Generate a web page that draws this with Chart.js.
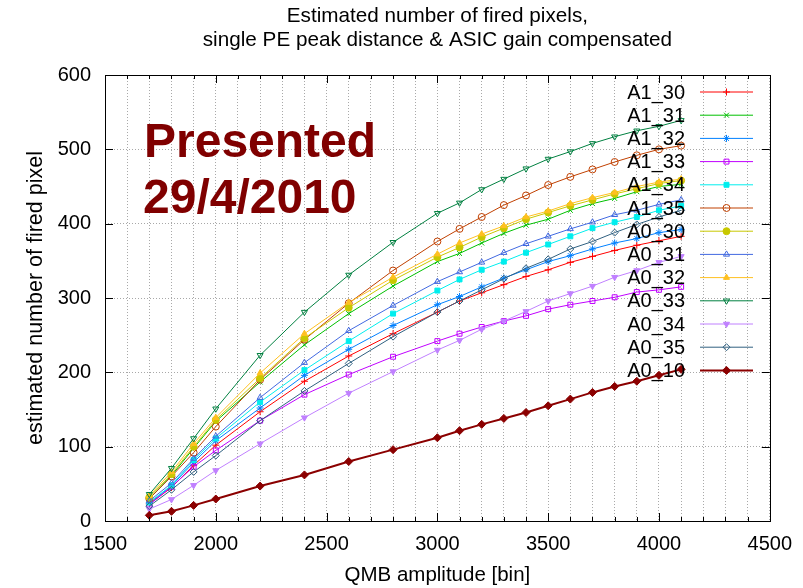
<!DOCTYPE html>
<html>
<head>
<meta charset="utf-8">
<script src="https://cdn.jsdelivr.net/npm/chart.js@4.4.1/dist/chart.umd.min.js"></script>
<style>
  body { margin: 0; background: #fff; }
  #wrap { width: 803px; height: 588px; }
</style>
</head>
<body>
<div id="wrap"><canvas id="chart" width="803" height="588"></canvas></div>
<script>
// QMB amplitude [bin]
const amplitudes = [1700, 1800, 1900, 2000, 2200, 2400, 2600, 2800, 3000, 3100, 3200, 3300, 3400, 3500, 3600, 3700, 3800, 3900, 4000, 4100];

const seriesNames = ["A1_30", "A1_31", "A1_32", "A1_33", "A1_34", "A1_35", "A0_30", "A0_31", "A0_32", "A0_33", "A0_34", "A0_35", "A0_10"];

const a1_30 = [23, 45, 75, 102, 147, 188, 222, 252, 281, 296, 307, 318, 329, 338, 348, 356, 364, 371, 377, 383];
const a1_31 = [30, 61, 98, 134, 187, 237, 279, 316, 349, 360, 374, 387, 398, 406, 418, 427, 434, 443, 450, 453];
const a1_32 = [24, 47, 79, 108, 152, 196, 231, 263, 291, 302, 315, 327, 338, 349, 357, 366, 374, 380, 388, 392];
const a1_33 = [22, 46, 73, 95, 135, 170, 197, 221, 242, 252, 261, 269, 276, 285, 291, 296, 301, 308, 311, 315];
const a1_34 = [25, 48, 82, 111, 160, 203, 242, 279, 310, 325, 338, 349, 361, 372, 383, 394, 402, 409, 418, 424];
const a1_35 = [30, 60, 92, 127, 190, 244, 293, 337, 376, 393, 409, 425, 438, 452, 463, 473, 483, 492, 500, 505];
const a0_30 = [32, 63, 100, 136, 192, 246, 287, 324, 355, 368, 382, 394, 406, 415, 424, 432, 440, 447, 454, 458];
const a0_31 = [27, 51, 84, 114, 166, 213, 256, 290, 322, 335, 348, 361, 373, 383, 393, 402, 412, 418, 426, 432];
const a0_32 = [34, 66, 104, 139, 199, 252, 294, 328, 359, 374, 386, 397, 409, 417, 427, 435, 442, 450, 456, 460];
const a0_33 = [36, 71, 111, 151, 223, 281, 331, 375, 414, 428, 446, 460, 474, 487, 497, 508, 517, 525, 531, 539];
const a0_34 = [16, 29, 48, 68, 104, 139, 172, 201, 230, 243, 258, 269, 282, 296, 306, 316, 328, 337, 348, 356];
const a0_35 = [20, 42, 66, 88, 135, 175, 212, 248, 281, 296, 311, 326, 340, 352, 366, 376, 388, 399, 409, 418];
const a0_10 = [7.6, 13, 21, 29.6, 47, 62, 80, 96, 112, 121.5, 130, 138, 146, 155, 164, 173, 181, 188, 196, 204];

const seriesValues = [a1_30, a1_31, a1_32, a1_33, a1_34, a1_35, a0_30, a0_31, a0_32, a0_33, a0_34, a0_35, a0_10];

// gnuplot default line colours and point types
const colors = ["#ff0000", "#00c000", "#0080ff", "#c000ff", "#00eeee", "#c04000", "#c8c800", "#4169e1", "#ffc020", "#008040", "#c080ff", "#306080", "#8b0000"];
const markers = [
  {style: "cross", fill: false},
  {style: "crossRot", fill: false},
  {style: "star", fill: false},
  {style: "rect", fill: false},
  {style: "rect", fill: true},
  {style: "circle", fill: false},
  {style: "circle", fill: true},
  {style: "triangle", fill: false},
  {style: "triangle", fill: true},
  {style: "triangle", fill: false, rot: 180},
  {style: "triangle", fill: true, rot: 180},
  {style: "rectRot", fill: false},
  {style: "rectRot", fill: true}
];

const FONT = '"Liberation Sans", Arial, Helvetica, sans-serif';

const datasets = seriesNames.map((name, i) => ({
  label: name,
  data: amplitudes.map((x, j) => ({x: x, y: seriesValues[i][j]})),
  borderColor: colors[i],
  backgroundColor: colors[i],
  pointBackgroundColor: markers[i].fill ? colors[i] : "rgba(255,255,255,0)",
  pointBorderColor: colors[i],
  pointStyle: markers[i].style,
  pointRotation: markers[i].rot || 0,
  pointRadius: name === "A0_10" ? 4 : 3.5,
  pointBorderWidth: 1,
  borderWidth: name === "A0_10" ? 2 : 1,
  tension: 0,
  fill: false,
  order: seriesNames.length - i
}));

// border box and inward ticks, gnuplot style
const frame = {
  id: "frame",
  afterDatasetsDraw(chart) {
    const ctx = chart.ctx;
    const a = chart.chartArea;
    const xs = chart.scales.x, ys = chart.scales.y;
    ctx.save();
    ctx.strokeStyle = "#000";
    ctx.lineWidth = 1;
    ctx.beginPath();
    xs.ticks.forEach(t => {
      const px = Math.round(xs.getPixelForValue(t.value)) + 0.5;
      const len = t.value % 500 === 0 ? 8 : 4;
      ctx.moveTo(px, a.bottom); ctx.lineTo(px, a.bottom - len);
      ctx.moveTo(px, a.top); ctx.lineTo(px, a.top + len);
    });
    ys.ticks.forEach(t => {
      const py = Math.round(ys.getPixelForValue(t.value)) + 0.5;
      ctx.moveTo(a.left, py); ctx.lineTo(a.left + 8, py);
      ctx.moveTo(a.right, py); ctx.lineTo(a.right - 8, py);
    });
    ctx.stroke();
    ctx.strokeRect(Math.round(a.left) + 0.5, Math.round(a.top) + 0.5, Math.round(a.right - a.left), Math.round(a.bottom - a.top));
    ctx.restore();
  }
};

// key inside the plot: label, then line sample with point
const keyBox = {
  id: "keyBox",
  afterDraw(chart) {
    const ctx = chart.ctx;
    ctx.save();
    ctx.font = "20px " + FONT;
    ctx.textAlign = "right";
    ctx.textBaseline = "middle";
    chart.data.datasets.forEach((ds, i) => {
      const y = 92 + i * 23.2;
      ctx.fillStyle = "#000";
      ctx.fillText(ds.label, 685, y + 1);
      ctx.strokeStyle = ds.borderColor;
      ctx.lineWidth = ds.borderWidth;
      ctx.beginPath();
      ctx.moveTo(700, y);
      ctx.lineTo(753, y);
      ctx.stroke();
      ctx.fillStyle = ds.pointBackgroundColor;
      ctx.strokeStyle = ds.pointBorderColor;
      ctx.lineWidth = 1;
      Chart.helpers.drawPoint(ctx, {pointStyle: ds.pointStyle, radius: ds.pointRadius, rotation: ds.pointRotation, borderWidth: 1}, 726.5, y);
    });
    // stamp
    ctx.fillStyle = "#800000";
    ctx.textAlign = "left";
    ctx.textBaseline = "alphabetic";
    ctx.font = "bold 48px " + FONT;
    ctx.fillText("Presented", 144, 157);
    ctx.fillText("29/4/2010", 143, 213);
    ctx.restore();
  }
};

new Chart(document.getElementById("chart"), {
  type: "line",
  data: {datasets: datasets},
  plugins: [frame, keyBox],
  options: {
    responsive: false,
    animation: false,
    layout: {padding: {left: 0, right: 26, top: 0, bottom: 0}},
    plugins: {
      legend: {display: false},
      tooltip: {enabled: false},
      title: {
        display: true,
        fullSize: false,
        text: ["Estimated number of fired pixels,", "single PE peak distance & ASIC gain compensated"],
        color: "#000",
        font: {family: FONT, size: 20.7, weight: "normal", lineHeight: 1.16},
        padding: {top: 4, bottom: 23}
      }
    },
    scales: {
      x: {
        type: "linear",
        min: 1500,
        max: 4500,
        afterFit: s => { s.height = 67; },
        ticks: {
          stepSize: 100,
          autoSkip: false,
          maxRotation: 0,
          minRotation: 0,
          padding: 11,
          color: "#000",
          font: {family: FONT, size: 20},
          callback: v => (v % 500 === 0 ? String(v) : "")
        },
        grid: {color: "#a8a8a8", lineWidth: 1, drawTicks: false},
        border: {display: false, dash: [1, 2]},
        title: {
          display: true,
          text: "QMB amplitude [bin]",
          color: "#000",
          font: {family: FONT, size: 20.5},
          padding: {top: 0, bottom: 0}
        }
      },
      y: {
        type: "linear",
        min: 0,
        max: 600,
        afterFit: s => { s.width = 105; },
        ticks: {
          stepSize: 100,
          padding: 14,
          color: "#000",
          font: {family: FONT, size: 20}
        },
        grid: {color: "#a8a8a8", lineWidth: 1, drawTicks: false},
        border: {display: false, dash: [1, 2]},
        title: {
          display: true,
          text: "estimated number of fired pixel",
          color: "#000",
          font: {family: FONT, size: 21.5},
          padding: {top: 23, bottom: 0}
        }
      }
    }
  }
});
</script>
</body>
</html>
